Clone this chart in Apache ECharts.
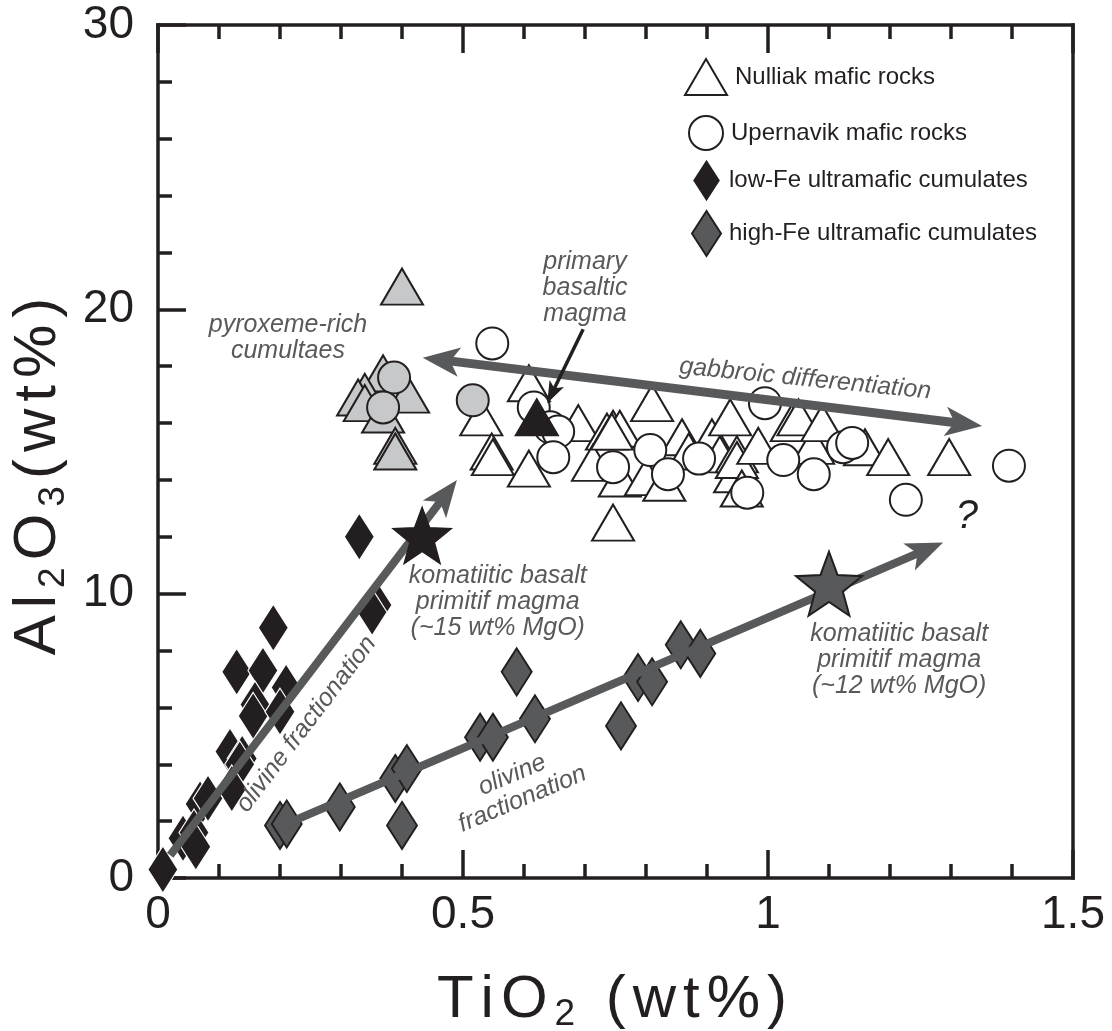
<!DOCTYPE html>
<html>
<head>
<meta charset="utf-8">
<title>TiO2 vs Al2O3</title>
<script src="https://cdn.jsdelivr.net/npm/echarts@6/dist/echarts.min.js"></script>
<style>
  html, body { margin: 0; padding: 0; background: #ffffff; }
  #chart { width: 1112px; height: 1031px; }
</style>
</head>
<body>
<div id="chart"></div>
<script>
// ---- data: [TiO2 wt%, Al2O3 wt%] ----
const nulliakMafic = [
  [0.608, 17.4], [0.530, 16.2], [0.547, 15.0], [0.549, 14.8], [0.608, 14.4],
  [0.689, 16.0], [0.736, 15.7], [0.746, 15.8], [0.757, 15.8], [0.713, 14.6],
  [0.810, 16.7], [0.746, 12.5], [0.757, 14.05], [0.744, 15.7], [0.800, 14.1],
  [0.830, 13.9], [0.859, 15.5], [0.870, 15.0], [0.908, 15.5], [0.921, 14.9],
  [0.938, 16.2], [0.946, 14.2], [0.949, 14.9], [0.949, 14.7], [0.957, 13.7],
  [0.984, 15.2], [1.039, 16.0], [1.050, 16.2], [1.074, 15.2], [1.089, 16.0],
  [1.159, 15.15], [1.197, 14.8], [1.297, 14.8]
];
const nulliakCumulate = [
  [0.400, 20.8], [0.369, 17.75], [0.339, 17.1], [0.328, 16.9], [0.339, 16.7],
  [0.369, 16.3], [0.410, 17.0], [0.389, 15.2], [0.389, 15.0]
];
const upernavikMafic = [
  [0.548, 18.8], [0.616, 16.55], [0.643, 15.85], [0.656, 15.7], [0.648, 14.8],
  [0.746, 14.45], [0.807, 15.05], [0.836, 14.2], [0.887, 14.75], [0.966, 13.55],
  [0.995, 16.7], [1.025, 14.7], [1.075, 14.2], [1.123, 15.15], [1.138, 15.3],
  [1.226, 13.3], [1.395, 14.5]
];
const upernavikCumulate = [[0.387, 17.6], [0.369, 16.55], [0.516, 16.8]];
const primaryMagma = [[0.621, 16.2]];
const lowFeCumulates = [
  [0.330, 12.0], [0.359, 9.6], [0.351, 9.35], [0.189, 8.8], [0.129, 7.25],
  [0.172, 7.3], [0.210, 6.7], [0.159, 6.1], [0.156, 5.7], [0.200, 5.85],
  [0.118, 4.45], [0.138, 4.2], [0.134, 4.0], [0.121, 3.15], [0.069, 2.6],
  [0.082, 2.8], [0.041, 1.4], [0.059, 1.6], [0.062, 1.1], [0.008, 0.3]
];
const highFeCumulates = [
  [0.200, 1.85], [0.211, 1.9], [0.298, 2.5], [0.389, 3.5], [0.408, 3.85],
  [0.400, 1.85], [0.528, 4.95], [0.549, 4.95], [0.588, 7.25], [0.618, 5.6],
  [0.759, 5.35], [0.787, 7.05], [0.810, 6.9], [0.857, 8.2], [0.889, 7.9]
];
const komatiiticLowFe = [[0.433, 12.05]];
const komatiiticHighFe = [[1.10, 10.35]];

// trend arrows: [start, tip]
const trendLowFe = [[0.02, 0.8], [0.49, 14.0]];
const trendHighFe = [[0.21, 1.9], [1.287, 11.8]];
const trendGabbro = [[0.434, 18.3], [1.351, 15.9]];
const pointerPrimary = [[0.697, 19.3], [0.638, 16.7]];

const xTickLabels = ['0', '0.5', '1', '1.5'];
const yTickLabels = ['0', '10', '20', '30'];

// ---- styling ----
const FONT = '"Liberation Sans", Arial, Helvetica, sans-serif';
const INK = '#231f20';
const GREY = '#58595b';
const PALE = '#c7c8ca';
const STAR = 'path://M50,0 L62.34,33.01 L97.55,34.55 L69.97,56.49 L79.39,90.45 L50,71 L20.61,90.45 L30.03,56.49 L2.45,34.55 L37.66,33.01 Z';

const frameLine = { onZero: false, lineStyle: { color: INK, width: 3.5, cap: 'square' } };
const majorTick = { inside: true, length: 28, lineStyle: { color: INK, width: 3.5 } };
const minorTick = { show: true, splitNumber: 5, length: 14, lineStyle: { color: INK, width: 3.5 } };

// axis titles are set letter by letter so they can be tracked out
const NAME_SIZE = 60, TRACK = 7;
const nameRich = {
  n: { fontSize: NAME_SIZE, fontFamily: FONT, color: INK, lineHeight: NAME_SIZE + 6, padding: [0, TRACK, 0, 0] },
  s: { fontSize: Math.round(NAME_SIZE * 0.62), fontFamily: FONT, color: INK,
       lineHeight: Math.round(NAME_SIZE * 0.62), verticalAlign: 'bottom', padding: [0, TRACK, 0, 0] }
};
// parts: [text, isSubscript]
const tracked = parts => parts.map(([t, sub]) =>
  t.split('').map(c => '{' + (sub ? 's' : 'n') + '|' + c + '}').join('')).join('');

const xName = tracked([['TiO', false], ['2', true], [' (wt%)', false]]);
const yName = tracked([['Al', false], ['2', true], ['O', false], ['3', true], ['(wt%)', false]]);

const chart = echarts.init(document.getElementById('chart'), null, { renderer: 'canvas' });

const withFill = (pts, fill) => pts.map(p => ({ value: p, itemStyle: { color: fill } }));

const legendBase = {
  orient: 'vertical', padding: 0, selectedMode: false, symbolKeepAspect: false,
  textStyle: { fontFamily: FONT, fontSize: 24, color: INK, padding: [0, 0, 0, 3] }
};

const option = {
  animation: false,
  backgroundColor: '#ffffff',
  grid: { left: 158, right: 39, top: 25, bottom: 153, containLabel: false, outerBoundsMode: 'none' },
  xAxis: [
    {
      type: 'value', min: 0, max: 1.5, interval: 0.5, position: 'bottom',
      axisLine: frameLine, axisTick: majorTick, minorTick: minorTick,
      splitLine: { show: false },
      axisLabel: { fontSize: 46, fontFamily: FONT, color: INK, margin: 14,
        formatter: (v, i) => xTickLabels[i] },
      name: xName, nameLocation: 'middle', nameGap: 89,
      nameTextStyle: { rich: nameRich }
    },
    {
      type: 'value', min: 0, max: 1.5, interval: 0.5, position: 'top',
      axisLine: frameLine, axisTick: majorTick, minorTick: minorTick,
      splitLine: { show: false }, axisLabel: { show: false }
    }
  ],
  yAxis: [
    {
      type: 'value', min: 0, max: 30, interval: 10, position: 'left',
      axisLine: frameLine, axisTick: majorTick, minorTick: minorTick,
      splitLine: { show: false },
      axisLabel: { fontSize: 46, fontFamily: FONT, color: INK, margin: 24,
        formatter: (v, i) => yTickLabels[i] },
      name: yName, nameLocation: 'middle', nameGap: 84, nameRotate: 90,
      nameTextStyle: { rich: nameRich, padding: [0, 43, 0, 0] }
    },
    {
      type: 'value', min: 0, max: 30, interval: 10, position: 'right',
      axisLine: frameLine, axisTick: { show: false }, minorTick: { show: false },
      splitLine: { show: false }, axisLabel: { show: false }
    }
  ],
  legend: [
    Object.assign({}, legendBase, { data: ['Nulliak mafic rocks'], left: 684, top: 58, itemWidth: 42, itemHeight: 36 }),
    Object.assign({}, legendBase, { data: ['Upernavik mafic rocks'], left: 688, top: 115, itemWidth: 34, itemHeight: 34 }),
    Object.assign({}, legendBase, { data: ['low-Fe ultramafic cumulates'], left: 691, top: 157, itemWidth: 29, itemHeight: 45 }),
    Object.assign({}, legendBase, { data: ['high-Fe ultramafic cumulates'], left: 691, top: 210, itemWidth: 29, itemHeight: 45 })
  ],
  series: [
    {
      name: 'Nulliak mafic rocks', type: 'scatter', z: 3,
      symbol: 'triangle', symbolSize: [42, 36],
      itemStyle: { color: '#ffffff', borderColor: INK, borderWidth: 2, opacity: 1 },
      emphasis: { disabled: true },
      data: nulliakMafic.map(p => ({ value: p })).concat(withFill(nulliakCumulate, PALE))
    },
    {
      name: 'Upernavik mafic rocks', type: 'scatter', z: 4,
      symbol: 'circle', symbolSize: 32,
      itemStyle: { color: '#ffffff', borderColor: INK, borderWidth: 2, opacity: 1 },
      emphasis: { disabled: true },
      data: upernavikMafic.map(p => ({ value: p })).concat(withFill(upernavikCumulate, PALE))
    },
    {
      name: 'primary basaltic magma', type: 'scatter', z: 5,
      symbol: 'triangle', symbolSize: [42, 36],
      itemStyle: { color: INK, borderColor: INK, borderWidth: 2, opacity: 1 },
      emphasis: { disabled: true },
      data: primaryMagma
    },
    {
      name: 'low-Fe ultramafic cumulates', type: 'scatter', z: 4,
      symbol: 'diamond', symbolSize: [30, 47],
      itemStyle: { color: INK, borderColor: '#ffffff', borderWidth: 1.2, opacity: 1 },
      emphasis: { disabled: true },
      data: lowFeCumulates
    },
    {
      name: 'high-Fe ultramafic cumulates', type: 'scatter', z: 4,
      symbol: 'diamond', symbolSize: [30, 47],
      itemStyle: { color: GREY, borderColor: INK, borderWidth: 2, opacity: 1 },
      emphasis: { disabled: true },
      data: highFeCumulates
    },
    {
      name: 'komatiitic basalt (~15 wt% MgO)', type: 'scatter', z: 5,
      symbol: STAR, symbolSize: [58, 56],
      itemStyle: { color: INK, borderColor: INK, borderWidth: 1.5, opacity: 1 },
      emphasis: { disabled: true },
      data: komatiiticLowFe
    },
    {
      name: 'komatiitic basalt (~12 wt% MgO)', type: 'scatter', z: 5,
      symbol: STAR, symbolSize: [66, 64],
      itemStyle: { color: GREY, borderColor: INK, borderWidth: 2, opacity: 1 },
      emphasis: { disabled: true },
      data: komatiiticHighFe
    }
  ]
};

chart.setOption(option);

// ---- trend arrows and annotations, placed from data coordinates ----
const finder = { xAxisIndex: 0, yAxisIndex: 0 };
const toPx = p => chart.convertToPixel(finder, p);
const toData = p => chart.convertFromPixel(finder, p);

// the shaft stops a little short of each tip; the head is pushed forward by the same amount
const HEAD_LEAD = 12;
function pullBack(from, tip, dist) {
  const a = toPx(from), b = toPx(tip);
  const dx = b[0] - a[0], dy = b[1] - a[1];
  const len = Math.hypot(dx, dy);
  return toData([b[0] - dx / len * dist, b[1] - dy / len * dist]);
}

function arrowSeries(name, pts, color, width, head, bothEnds, lead) {
  const end = pullBack(pts[0], pts[1], lead);
  const start = bothEnds ? pullBack(pts[1], pts[0], lead) : pts[0];
  return {
    name, type: 'scatter', data: [], z: 1, silent: true,
    markLine: {
      silent: true, animation: false,
      symbol: [bothEnds ? 'arrow' : 'none', 'arrow'],
      symbolSize: head,
      label: { show: false },
      emphasis: { disabled: true },
      lineStyle: { color, width, type: 'solid', opacity: 1, cap: 'butt' },
      itemStyle: { color },
      data: [[
        { coord: start, symbolOffset: [0, bothEnds ? -lead : 0] },
        { coord: end, symbolOffset: [0, -lead] }
      ]]
    }
  };
}

const noteStyle = { fontFamily: FONT, fontSize: 25, fontStyle: 'italic', fill: GREY, align: 'center', verticalAlign: 'middle', lineHeight: 26 };
const notes = [
  { text: 'pyroxeme-rich\ncumultaes', at: [0.213, 19.0], rot: 0 },
  { text: 'primary\nbasaltic\nmagma', at: [0.700, 20.74], rot: 0 },
  { text: 'gabbroic differentiation', at: [1.061, 17.55], rot: -0.1 },
  { text: 'komatiitic basalt\nprimitif magma\n(~15 wt% MgO)', at: [0.557, 9.7], rot: 0 },
  { text: 'komatiitic basalt\nprimitif magma\n(~12 wt% MgO)', at: [1.215, 7.66], rot: 0 },
  { text: 'olivine fractionation', at: [0.243, 5.41], rot: 0.92 },
  { text: 'olivine\nfractionation', at: [0.589, 3.2], rot: 0.4 }
];

const graphic = notes.map(n => {
  const p = toPx(n.at);
  return { type: 'text', x: p[0], y: p[1], rotation: n.rot, z: 20, silent: true,
    style: Object.assign({ text: n.text }, noteStyle) };
});
const qp = toPx([1.326, 12.69]);
graphic.push({ type: 'text', x: qp[0], y: qp[1], z: 20, silent: true,
  style: { text: '?', fontFamily: FONT, fontSize: 40, fontStyle: 'italic', fill: INK, align: 'center', verticalAlign: 'middle' } });

chart.setOption({
  graphic,
  series: option.series.concat([
    arrowSeries('trend low-Fe', trendLowFe, GREY, 8, [22, 37], false, HEAD_LEAD),
    arrowSeries('trend high-Fe', trendHighFe, GREY, 8, [22, 37], false, HEAD_LEAD),
    arrowSeries('trend gabbro', trendGabbro, GREY, 9, [22, 37], true, HEAD_LEAD),
    arrowSeries('pointer primary', pointerPrimary, INK, 3.5, [12, 22], false, 6)
  ])
});
</script>
</body>
</html>
